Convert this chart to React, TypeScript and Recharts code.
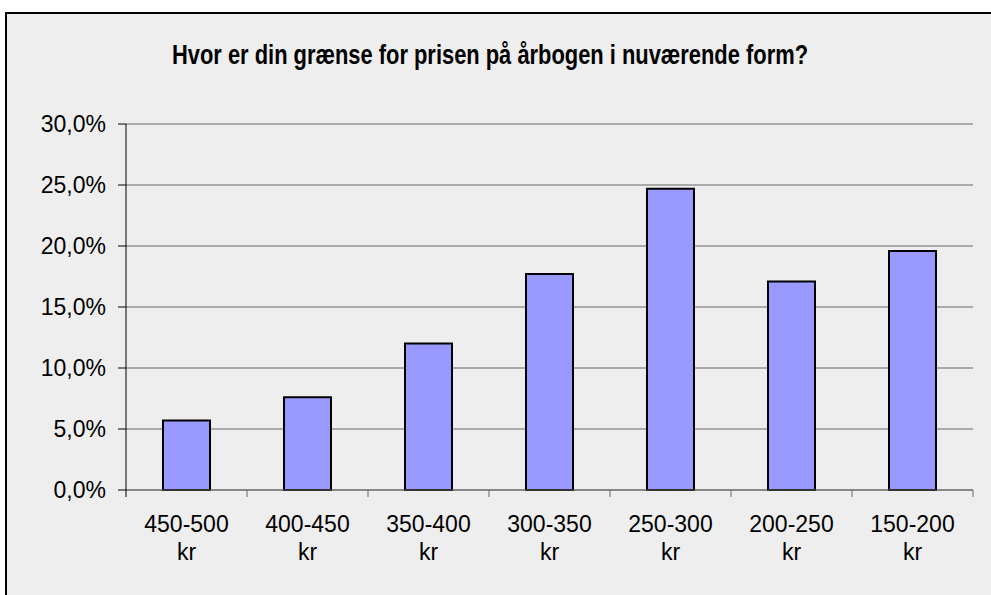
import { Bar, BarChart, CartesianGrid, XAxis, YAxis } from "recharts";

const categories = ["450-500 kr", "400-450 kr", "350-400 kr", "300-350 kr", "250-300 kr", "200-250 kr", "150-200 kr"];
const shares = [5.7, 7.6, 12.0, 17.7, 24.7, 17.1, 19.6];
const yTicks = [0, 5, 10, 15, 20, 25, 30];
const title = "Hvor er din grænse for prisen på årbogen i nuværende form?";

const data = categories.map((name, i) => ({ name, value: shares[i] }));

const FONT = '"Liberation Sans", Arial, sans-serif';
const PLOT_LEFT = 126;
const PLOT_RIGHT = 973;
const HALF_BAND = (PLOT_RIGHT - PLOT_LEFT) / categories.length / 2;

function XTick(props: any) {
  const { x, y, payload, index } = props;
  const [range, unit] = String(payload.value).split(" ");
  return (
    <g>
      {index === 0 && <line x1={x - HALF_BAND} y1={y} x2={x - HALF_BAND} y2={y + 7} stroke="#000" />}
      <line x1={x + HALF_BAND} y1={y} x2={x + HALF_BAND} y2={y + 7} stroke="#666" />
      <text x={x} y={y + 34} textAnchor="middle" dominantBaseline="central" fontSize={23} fontFamily={FONT} fill="#000">
        {range}
      </text>
      <text x={x} y={y + 62} textAnchor="middle" dominantBaseline="central" fontSize={23} fontFamily={FONT} fill="#000">
        {unit}
      </text>
    </g>
  );
}

export default function App() {
  return (
    <div style={{ position: "absolute", left: 0, top: 0, width: 991, height: 595, background: "#fff", overflow: "hidden" }}>
      <div
        style={{
          position: "absolute",
          left: 5,
          top: 12,
          width: 990,
          height: 590,
          background: "#eeeeee",
          borderTop: "2px solid #000",
          borderLeft: "2px solid #000",
          boxSizing: "border-box",
        }}
      />
      <svg style={{ position: "absolute", left: 0, top: 0 }} width={991} height={100}>
        <text
          x={490}
          y={64}
          textAnchor="middle"
          fontSize={27}
          fontWeight="bold"
          fontFamily={FONT}
          fill="#000"
          textLength={636}
          lengthAdjust="spacingAndGlyphs"
        >
          {title}
        </text>
      </svg>
      <div style={{ position: "absolute", left: 0, top: 0 }}>
        <BarChart width={991} height={595} data={data} margin={{ top: 124, right: 991 - PLOT_RIGHT, bottom: 35, left: 0 }}>
          <CartesianGrid vertical={false} stroke="#666" strokeWidth={1} />
          <XAxis
            dataKey="name"
            interval={0}
            height={70}
            axisLine={{ stroke: "#666" }}
            tickLine={false}
            tickSize={0}
            tickMargin={0}
            tick={<XTick />}
          />
          <YAxis
            width={PLOT_LEFT}
            domain={[0, 30]}
            ticks={yTicks}
            interval={0}
            axisLine={{ stroke: "#000" }}
            tickLine={{ stroke: "#000" }}
            tickSize={8}
            tickMargin={12}
            tickFormatter={(v) => `${Number(v).toFixed(1).replace(".", ",")}%`}
            tick={{ fontSize: 23, fontFamily: FONT, fill: "#000" }}
          />
          <Bar dataKey="value" fill="#9999ff" stroke="#000" strokeWidth={2} barSize={47} isAnimationActive={false} />
        </BarChart>
      </div>
    </div>
  );
}
